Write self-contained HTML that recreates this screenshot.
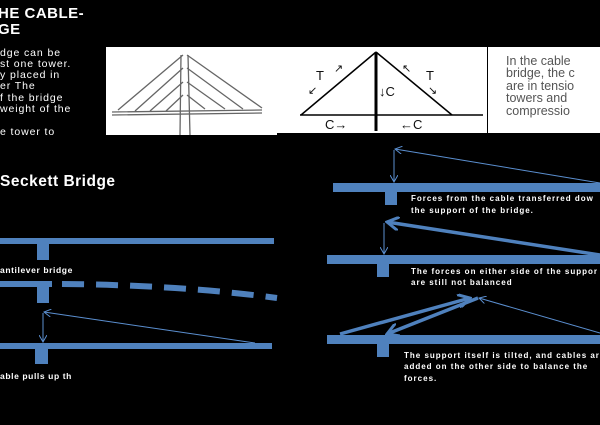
<!DOCTYPE html>
<html><head><style>body{margin:0;background:#000}svg{display:block}</style></head><body>
<svg width="600" height="425" viewBox="0 0 600 425" xmlns="http://www.w3.org/2000/svg" font-family="Liberation Sans, sans-serif">
<defs>
<marker id="a" markerWidth="8" markerHeight="8" refX="7" refY="4" orient="auto" markerUnits="userSpaceOnUse"><path d="M0,0 L7,4 L0,8" fill="none" stroke="#5b8fd0" stroke-width="1"/></marker>
<marker id="b" markerWidth="14" markerHeight="14" refX="12" refY="7" orient="auto" markerUnits="userSpaceOnUse"><path d="M0,0 L12,7 L0,14" fill="none" stroke="#4f81bd" stroke-width="3"/></marker>
</defs>
<rect width="600" height="425" fill="#000"/>
<g fill="#fff" font-weight="bold" font-size="15" letter-spacing="0.5">
<text x="-2" y="18">HE CABLE-</text><text x="-2" y="34">GE</text>
<text x="0" y="186" font-size="15.5">Seckett Bridge</text>
</g>
<g fill="#fff" font-size="10.5" letter-spacing="0.9">
<text x="0" y="56">dge can be</text><text x="0" y="67">st one tower.</text>
<text x="0" y="78">y placed in</text><text x="0" y="89">er The</text>
<text x="0" y="101">f the bridge</text><text x="0" y="112">weight of the</text>
<text x="0" y="135">e tower to</text>
</g>
<!-- sketch -->
<rect x="106" y="47" width="171" height="88" fill="#fff"/>
<g stroke="#666" stroke-width="1.3" fill="none">
<path d="M181,55 L180,135 M188,55 L190,135"/>
<path d="M112,112 L262,110 M112,115 L262,113"/>
<path d="M183,55 L118,110 M183,68 L135,111 M183,82 L150,111 M183,95 L166,111"/>
<path d="M187,55 L262,108 M187,68 L243,109 M187,82 L225,109 M187,95 L205,109"/>
</g>
<!-- force diagram -->
<rect x="277" y="47" width="210" height="86" fill="#fff"/>
<rect x="300" y="133" width="186" height="2" fill="#000"/>
<g stroke="#000" fill="none">
<path d="M376,52 L301,115 M376,52 L452,115" stroke-width="1.5"/>
<path d="M300,115 L483,115" stroke-width="1.5"/>
<path d="M376,52 L376,131" stroke-width="3"/>
</g>
<g font-size="13" fill="#111">
<text x="316" y="80">T</text><text x="426" y="80">T</text>
<text x="379" y="96">↓C</text>
<text x="325" y="129">C→</text><text x="400" y="129">←C</text>
<text x="334" y="72" font-size="11">↗</text><text x="308" y="94" font-size="11">↙</text>
<text x="402" y="72" font-size="11">↖</text><text x="428" y="94" font-size="11">↘</text>
</g>
<rect x="488" y="47" width="112" height="86" fill="#fff"/>
<g font-size="12.5" fill="#555">
<text x="506" y="65">In the cable</text><text x="506" y="77">bridge, the c</text>
<text x="506" y="90">are in tensio</text><text x="506" y="102">towers and</text>
<text x="506" y="115">compressio</text>
</g>
<!-- left bridges -->
<g fill="#4f81bd">
<rect x="0" y="238" width="274" height="6"/><rect x="37" y="243" width="12" height="17"/>
<rect x="0" y="281" width="52" height="6"/><rect x="37" y="286" width="12" height="17"/>
<rect x="0" y="343" width="272" height="6"/><rect x="35" y="348" width="13" height="16"/>
</g>
<path d="M62,284 Q180,285 277,298" stroke="#4f81bd" stroke-width="6" fill="none" stroke-dasharray="22,12"/>
<g stroke="#5b8fd0" stroke-width="1" fill="none">
<path d="M43,313 L43,342" marker-end="url(#a)"/>
<path d="M255,343 L44,312" marker-end="url(#a)"/>
</g>
<g fill="#fff" font-weight="bold" font-size="8.5" letter-spacing="0.6">
<text x="0" y="273">antilever bridge</text>
<text x="0" y="379">able pulls up th</text>
</g>
<!-- right bridges -->
<g fill="#4f81bd">
<rect x="333" y="183" width="267" height="9"/><rect x="385" y="191" width="12" height="14"/>
<rect x="327" y="255" width="273" height="9"/><rect x="377" y="263" width="12" height="14"/>
<rect x="327" y="335" width="273" height="9"/><rect x="377" y="343" width="12" height="14"/>
</g>
<g stroke="#5b8fd0" stroke-width="1" fill="none">
<path d="M394,150 L394,182" marker-end="url(#a)"/>
<path d="M600,183 L395,149" marker-end="url(#a)"/>
<path d="M384,223 L384,254" marker-end="url(#a)"/>
<path d="M600,333 L479,298" marker-end="url(#a)"/>
</g>
<g stroke="#4f81bd" stroke-width="3.5" fill="none">
<path d="M600,255 L387,222" marker-end="url(#b)"/>
<path d="M340,334 L470,298" marker-end="url(#b)"/>
<path d="M478,298 L387,334" marker-end="url(#b)"/>
</g>
<g fill="#fff" font-weight="bold" font-size="8" letter-spacing="1">
<text x="411" y="201">Forces from the cable transferred dow</text>
<text x="411" y="213">the support of the bridge.</text>
<text x="411" y="274">The forces on either side of the suppor</text>
<text x="411" y="285">are still not balanced</text>
<text x="404" y="358">The support itself is tilted, and cables are</text>
<text x="404" y="369">added on the other side to balance the</text>
<text x="404" y="381">forces.</text>
</g>
</svg>
</body></html>
